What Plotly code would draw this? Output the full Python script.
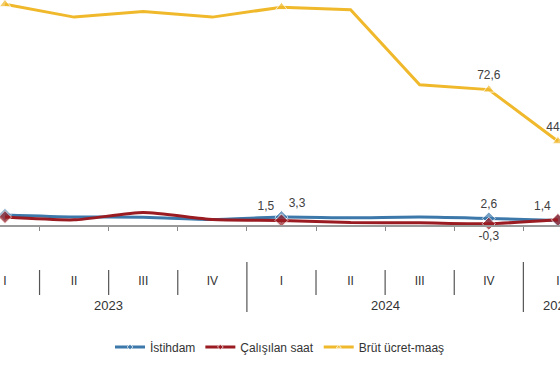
import plotly.graph_objects as go

# ---- data ----
quarters = ["I", "II", "III", "IV", "I", "II", "III", "IV", "I"]
years = ["2023", "2023", "2023", "2023", "2024", "2024", "2024", "2024", "2025"]
categories = [f"{y}-{q}" for y, q in zip(years, quarters)]

istihdam = [4.5, 3.4, 3.2, 2.0, 3.3, 2.9, 3.4, 2.6, 1.4]
calisilan_saat = [3.3, 1.8, 5.8, 2.0, 1.5, 0.3, 0.2, -0.3, 1.8]
brut_ucret = [119.0, 112.0, 115.0, 112.0, 117.4, 116.0, 75.2, 72.6, 44.5]

series_names = ["İstihdam", "Çalışılan saat", "Brüt ücret-maaş"]

# indices that carry a marker / value label
marker_idx = [0, 4, 7, 8]
label_pos = {
    "İstihdam": {4: "top right", 7: "top center", 8: "top left"},
    "Çalışılan saat": {4: "top left", 7: "bottom center"},
    "Brüt ücret-maaş": {7: "top center", 8: "top center"},
}

colors = {"İstihdam": "#3c78aa", "Çalışılan saat": "#9a1c22", "Brüt ücret-maaş": "#f0b92c"}
symbols = {"İstihdam": "diamond", "Çalışılan saat": "diamond", "Brüt ücret-maaş": "triangle-up"}
shapes_line = {"İstihdam": "spline", "Çalışılan saat": "spline", "Brüt ücret-maaş": "linear"}

PLOT_H = 225  # pixel height of the plot area


def fmt(v):
    return f"{v:.1f}".replace(".", ",")


def paper_y(py):
    return (PLOT_H - py) / PLOT_H


fig = go.Figure()
for name, vals in zip(series_names, [istihdam, calisilan_saat, brut_ucret]):
    lp = label_pos[name]
    text = [fmt(v) if i in lp else "" for i, v in enumerate(vals)]
    tpos = [lp.get(i, "top center") for i in range(len(vals))]
    sizes = [10 if i in marker_idx else 0 for i in range(len(vals))]
    fig.add_trace(go.Scatter(
        x=categories, y=vals, name=name,
        mode="lines+markers+text",
        line=dict(color=colors[name], width=3, shape=shapes_line[name], smoothing=0.6),
        marker=dict(symbol=symbols[name], size=sizes, color=colors[name]),
        text=text, textposition=tpos,
        textfont=dict(family="Liberation Sans, Arial", size=12, color="#404040"),
        cliponaxis=False,
    ))

shapes = []
for i in range(len(categories) - 1):
    year_boundary = years[i] != years[i + 1]
    y0 = paper_y(262 if year_boundary else 270)
    y1 = paper_y(312 if year_boundary else 295)
    shapes.append(dict(type="line", xref="x", yref="paper", x0=i + 0.5, x1=i + 0.5,
                       y0=y0, y1=y1, line=dict(color="#555555", width=1.2)))

annotations = []
for yr in ["2023", "2024", "2025"]:
    idx = [i for i, y in enumerate(years) if y == yr]
    xc = (idx[0] + idx[-1]) / 2
    annotations.append(dict(x=xc, y=paper_y(305), xref="x", yref="paper", text=yr,
                            showarrow=False, yanchor="middle",
                            font=dict(family="Liberation Sans, Arial", size=13, color="#333333")))

fig.update_layout(
    width=560, height=380,
    margin=dict(l=0, r=0, t=0, b=380 - PLOT_H),
    paper_bgcolor="white", plot_bgcolor="white",
    showlegend=True,
    legend=dict(orientation="h", x=0.5, xanchor="center", y=paper_y(347), yanchor="middle",
                font=dict(family="Liberation Sans, Arial", size=12, color="#333333"),
                itemwidth=30, tracegroupgap=0),
    xaxis=dict(type="category", range=[-0.072, 8.03], tickvals=categories, ticktext=quarters,
               tickson="boundaries", ticks="outside", ticklen=4, tickcolor="#888888",
               showline=True, linecolor="#999999", linewidth=1.5, showgrid=False,
               ticklabelstandoff=44,
               tickfont=dict(family="Liberation Sans, Arial", size=12, color="#333333")),
    yaxis=dict(range=[-1.0, 121.3], visible=False, showgrid=False, zeroline=False),
    shapes=shapes, annotations=annotations,
)

fig.write_html("out.html", config={"displayModeBar": False},
               post_script="document.body.style.margin='0';document.body.style.overflow='hidden';")
